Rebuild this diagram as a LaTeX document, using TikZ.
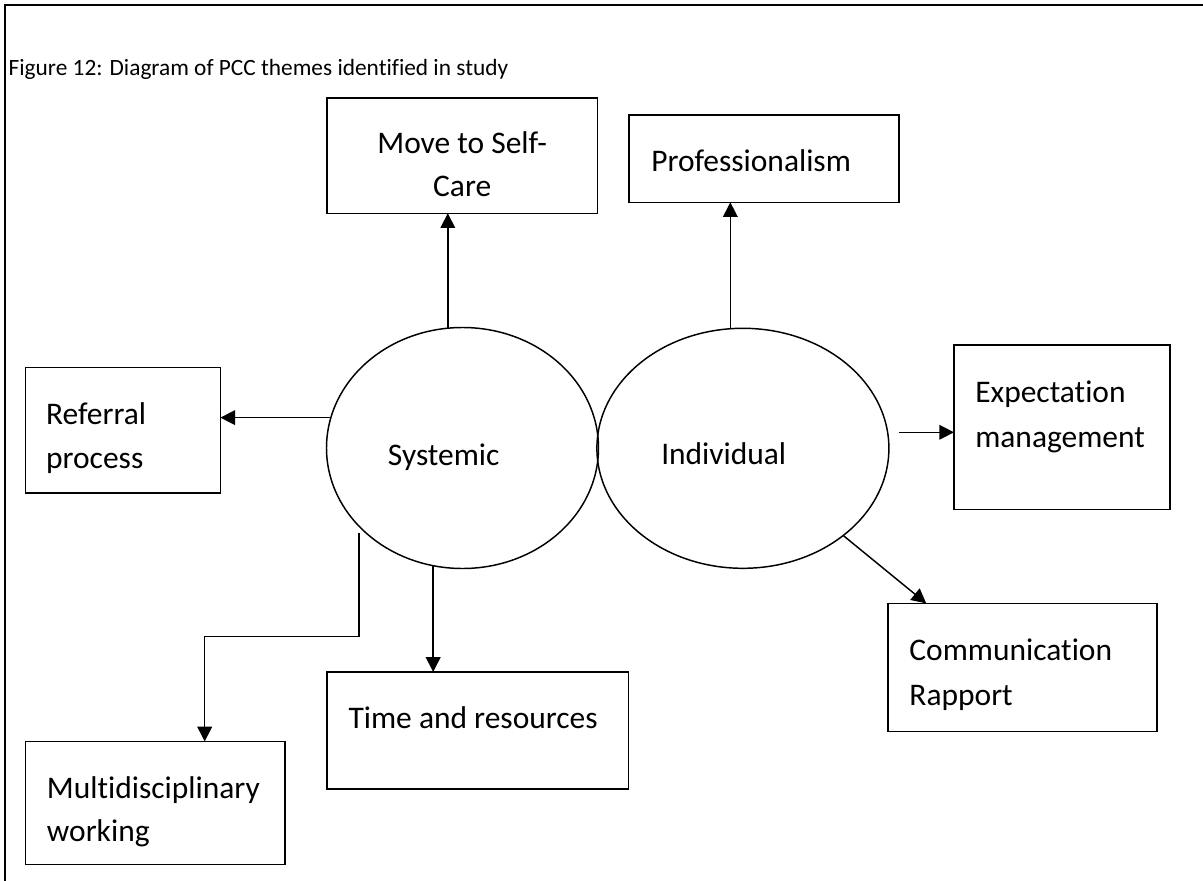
\documentclass[tikz,border=0pt]{standalone}
\usepackage{fontspec}
\setmainfont[Ligatures=NoCommon]{Carlito}
\usetikzlibrary{shapes.geometric,arrows.meta,calc}
\begin{document}
\begin{tikzpicture}[x=0.75pt,y=-0.75pt,
  box/.style={draw, line width=1.2pt, rectangle, inner sep=0pt, outer sep=0pt, anchor=north west},
  theme/.style={draw, line width=1.1pt, ellipse, inner sep=0pt, outer sep=0pt},
  lbl/.style={inner sep=0pt, anchor=base west, font=\fontsize{23.6pt}{33pt}\selectfont},
  captionfont/.style={inner sep=0pt, anchor=base west, font=\fontsize{17.5pt}{21pt}\selectfont},
  arr/.style={line width=1.1pt, -{Triangle[length=11pt,width=11pt]}}]
\useasboundingbox (0,0) rectangle (1203,881);

% page frame (top and left edges)
\draw[line width=1.5pt] (5,881) -- (5,5) -- (1203,5);

% caption
\node[captionfont] (cap) at (8.4,75.7) {Figure 12: Diagram of PCC themes identified in study};

% the two central themes
\node[theme, minimum width=204pt, minimum height=180.75pt] (sys) at (462.5,448) {};
\node[theme, minimum width=219pt, minimum height=180pt] (ind) at (742.9,448.3) {};
\node[lbl] (systxt) at (387.7,465.5) {Systemic};
\node[lbl] (indtxt) at (661,464.3) {Individual};

% sub-theme boxes
\node[box, minimum width=202.6pt, minimum height=86.25pt] (move) at (327.2,98.3) {};
\node[box, minimum width=202.7pt, minimum height=65.7pt] (prof) at (629,114.7) {};
\node[box, minimum width=146.3pt, minimum height=94.4pt] (ref) at (25.3,367.3) {};
\node[box, minimum width=162.2pt, minimum height=123.2pt] (exp) at (954,345.1) {};
\node[box, minimum width=201.75pt, minimum height=96pt] (comm) at (887.8,603.4) {};
\node[box, minimum width=226.1pt, minimum height=88pt] (time) at (327.2,671.9) {};
\node[box, minimum width=194.85pt, minimum height=92.3pt] (multi) at (25.3,741.4) {};

% box labels
\node[lbl, anchor=base] (move1) at (462.2,153.3) {Move to Self-};
\node[lbl, anchor=base] (move2) at (462.2,196.7) {Care};
\node[lbl] (prof1) at (651,171.7) {Professionalism};
\node[lbl] (ref1) at (45.9,424.7) {Referral};
\node[lbl] (ref2) at (45.9,468.9) {process};
\node[lbl] (exp1) at (975,402.5) {Expectation};
\node[lbl] (exp2) at (975,447.3) {management};
\node[lbl] (comm1) at (909.2,660.7) {Communication};
\node[lbl] (comm2) at (909.2,705.6) {Rapport};
\node[lbl] (time1) at (348.3,728.9) {Time and resources};
\node[lbl] (multi1) at (46.7,798.8) {Multidisciplinary};
\node[lbl] (multi2) at (46.7,841.9) {working};

% connectors
\draw[arr] (sys.97) -- (sys.97 |- move.south);
\draw[arr] (ind.96.7) -- (ind.96.7 |- prof.south);
\draw[arr] (sys.167.4) -- (sys.167.4 -| ref.east);
\draw[arr] (sys.256.6) -- (sys.256.6 |- time.north);
\coordinate (mstart) at ($(sys.217.5)+(0,6.5)$);
\coordinate (mbend) at (204.7,636.7);
\draw[arr] (mstart) |- (mbend) -- (mbend |- multi.north);
\coordinate (estart) at ($(ind.east)+(9.6,-16)$);
\draw[arr] (estart) -- (estart -| exp.west);
\draw[arr] (ind.319) -- ($(comm.north west)!0.143!(comm.north east)$);
\end{tikzpicture}
\end{document}
